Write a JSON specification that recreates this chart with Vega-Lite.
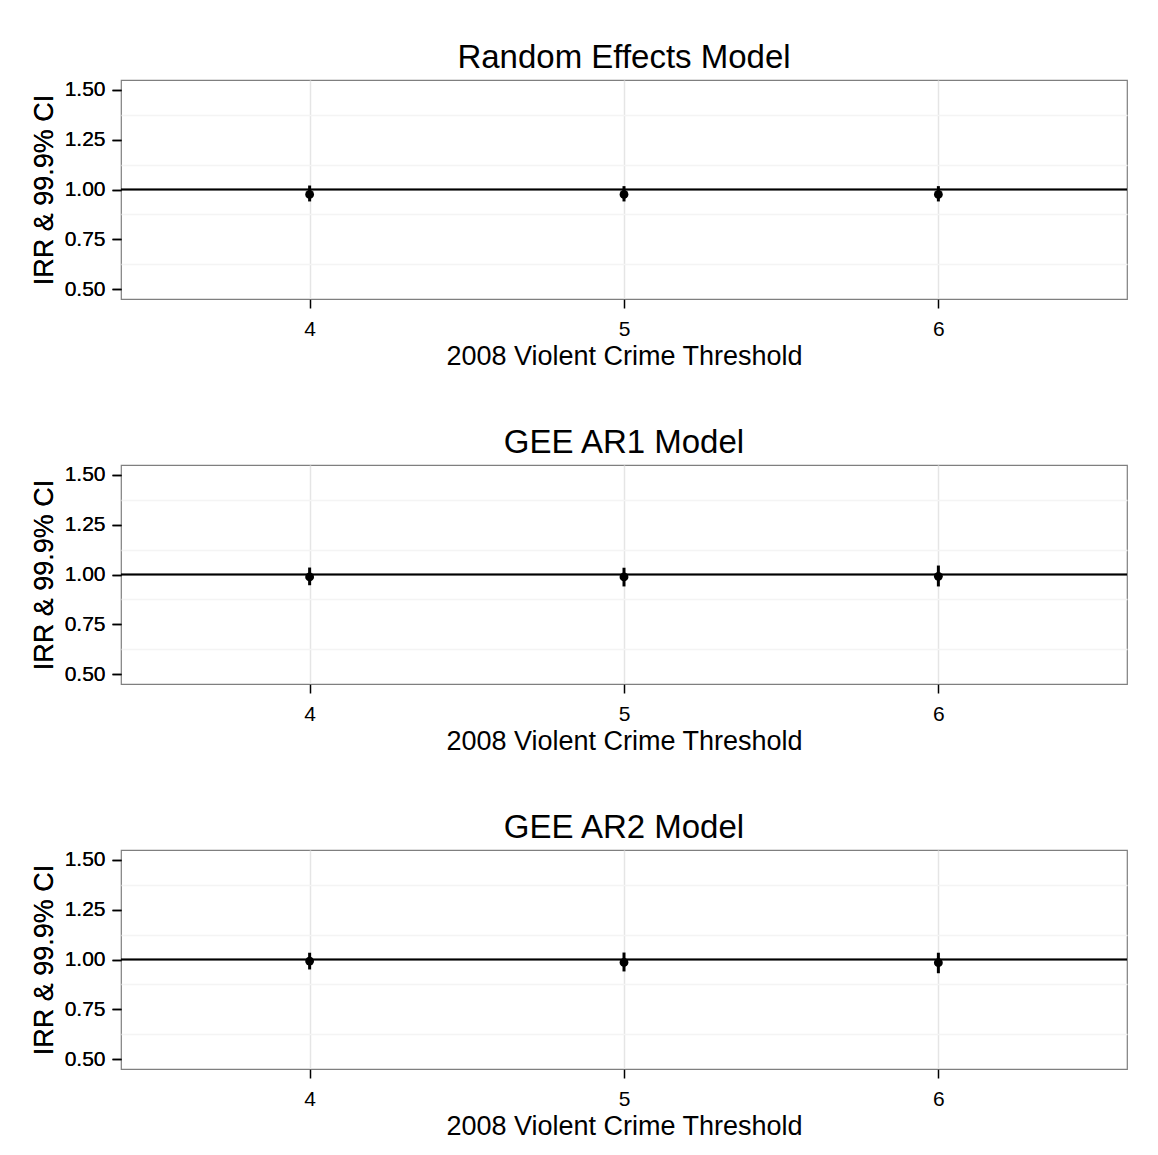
{
  "$schema": "https://vega.github.io/schema/vega-lite/v6.json",
  "background": "white",
  "padding": {"top": 41, "left": 29, "right": 5, "bottom": 5},
  "datasets": {
    "irr": [
      {"model": "Random Effects", "threshold": 4, "est": 0.975, "lo": 0.94, "hi": 1.02},
      {"model": "Random Effects", "threshold": 5, "est": 0.975, "lo": 0.94, "hi": 1.017},
      {"model": "Random Effects", "threshold": 6, "est": 0.975, "lo": 0.94, "hi": 1.017},
      {"model": "GEE AR1", "threshold": 4, "est": 0.988, "lo": 0.946, "hi": 1.035},
      {"model": "GEE AR1", "threshold": 5, "est": 0.988, "lo": 0.94, "hi": 1.034},
      {"model": "GEE AR1", "threshold": 6, "est": 0.991, "lo": 0.94, "hi": 1.045},
      {"model": "GEE AR2", "threshold": 4, "est": 0.992, "lo": 0.95, "hi": 1.034},
      {"model": "GEE AR2", "threshold": 5, "est": 0.985, "lo": 0.94, "hi": 1.035},
      {"model": "GEE AR2", "threshold": 6, "est": 0.984, "lo": 0.931, "hi": 1.034}
    ]
  },
  "config": {
    "font": "Liberation Sans",
    "view": {"stroke": "#7F7F7F", "strokeWidth": 1.2},
    "title": {"fontSize": 33, "fontWeight": "normal", "color": "black", "offset": 0},
    "axis": {
      "labelFontSize": 21, "titleFontSize": 27, "titleFontWeight": "normal",
      "labelColor": "black", "titleColor": "black", "tickColor": "black",
      "tickSize": 9, "tickWidth": 1.5, "domain": false,
      "gridColor": "#E5E5E5", "gridWidth": 1.5, "labelPadding": 7, "titlePadding": 6
    },
    "axisX": {"labelPadding": 10, "titlePadding": 4}
  },
  "spacing": 56,
  "vconcat": [
    {
      "title": "Random Effects Model",
      "width": 1006, "height": 219,
      "data": {"name": "irr"},
      "transform": [{"filter": "datum.model === 'Random Effects'"}],
      "resolve": {"axis": {"y": "independent"}},
      "layer": [
        {"mark": {"type": "rule", "color": "black", "strokeWidth": 1.5},
         "encoding": {"y": {"datum": 1, "type": "quantitative", "scale": {"domain": [0.45, 1.55], "nice": false, "zero": false},
           "axis": {"orient": "left", "values": [0.625, 0.875, 1.125, 1.375], "grid": true, "gridColor": "#F4F4F4", "labels": false, "ticks": false, "title": null}}}},
        {"mark": {"type": "rule", "color": "black", "strokeWidth": 3},
         "encoding": {
           "x": {"field": "threshold", "type": "quantitative", "scale": {"domain": [3.4, 6.6], "nice": false, "zero": false}, "axis": {"values": [4, 5, 6], "format": "d", "title": "2008 Violent Crime Threshold", "labelFlush": false}},
           "y": {"field": "lo", "type": "quantitative", "axis": {"orient": "left", "values": [0.5, 0.75, 1, 1.25, 1.5], "format": ".2f", "title": "IRR & 99.9% CI"}},
           "y2": {"field": "hi"}}},
        {"mark": {"type": "point", "filled": true, "size": 78, "color": "black", "opacity": 1},
         "encoding": {
           "x": {"field": "threshold", "type": "quantitative"},
           "y": {"field": "est", "type": "quantitative", "axis": {"orient": "left", "values": [0.5, 0.75, 1, 1.25, 1.5], "format": ".2f", "title": "IRR & 99.9% CI"}}}}
      ]
    },
    {
      "title": "GEE AR1 Model",
      "width": 1006, "height": 219,
      "data": {"name": "irr"},
      "transform": [{"filter": "datum.model === 'GEE AR1'"}],
      "resolve": {"axis": {"y": "independent"}},
      "layer": [
        {"mark": {"type": "rule", "color": "black", "strokeWidth": 1.5},
         "encoding": {"y": {"datum": 1, "type": "quantitative", "scale": {"domain": [0.45, 1.55], "nice": false, "zero": false},
           "axis": {"orient": "left", "values": [0.625, 0.875, 1.125, 1.375], "grid": true, "gridColor": "#F4F4F4", "labels": false, "ticks": false, "title": null}}}},
        {"mark": {"type": "rule", "color": "black", "strokeWidth": 3},
         "encoding": {
           "x": {"field": "threshold", "type": "quantitative", "scale": {"domain": [3.4, 6.6], "nice": false, "zero": false}, "axis": {"values": [4, 5, 6], "format": "d", "title": "2008 Violent Crime Threshold", "labelFlush": false}},
           "y": {"field": "lo", "type": "quantitative", "axis": {"orient": "left", "values": [0.5, 0.75, 1, 1.25, 1.5], "format": ".2f", "title": "IRR & 99.9% CI"}},
           "y2": {"field": "hi"}}},
        {"mark": {"type": "point", "filled": true, "size": 78, "color": "black", "opacity": 1},
         "encoding": {
           "x": {"field": "threshold", "type": "quantitative"},
           "y": {"field": "est", "type": "quantitative", "axis": {"orient": "left", "values": [0.5, 0.75, 1, 1.25, 1.5], "format": ".2f", "title": "IRR & 99.9% CI"}}}}
      ]
    },
    {
      "title": "GEE AR2 Model",
      "width": 1006, "height": 219,
      "data": {"name": "irr"},
      "transform": [{"filter": "datum.model === 'GEE AR2'"}],
      "resolve": {"axis": {"y": "independent"}},
      "layer": [
        {"mark": {"type": "rule", "color": "black", "strokeWidth": 1.5},
         "encoding": {"y": {"datum": 1, "type": "quantitative", "scale": {"domain": [0.45, 1.55], "nice": false, "zero": false},
           "axis": {"orient": "left", "values": [0.625, 0.875, 1.125, 1.375], "grid": true, "gridColor": "#F4F4F4", "labels": false, "ticks": false, "title": null}}}},
        {"mark": {"type": "rule", "color": "black", "strokeWidth": 3},
         "encoding": {
           "x": {"field": "threshold", "type": "quantitative", "scale": {"domain": [3.4, 6.6], "nice": false, "zero": false}, "axis": {"values": [4, 5, 6], "format": "d", "title": "2008 Violent Crime Threshold", "labelFlush": false}},
           "y": {"field": "lo", "type": "quantitative", "axis": {"orient": "left", "values": [0.5, 0.75, 1, 1.25, 1.5], "format": ".2f", "title": "IRR & 99.9% CI"}},
           "y2": {"field": "hi"}}},
        {"mark": {"type": "point", "filled": true, "size": 78, "color": "black", "opacity": 1},
         "encoding": {
           "x": {"field": "threshold", "type": "quantitative"},
           "y": {"field": "est", "type": "quantitative", "axis": {"orient": "left", "values": [0.5, 0.75, 1, 1.25, 1.5], "format": ".2f", "title": "IRR & 99.9% CI"}}}}
      ]
    }
  ]
}
